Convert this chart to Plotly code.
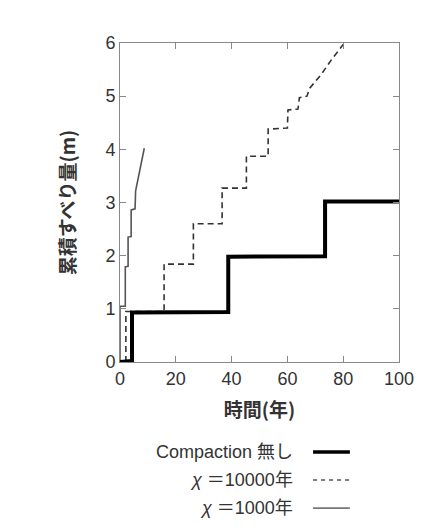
import plotly.graph_objects as go

# Compaction 無し (thick black)
x_none = [0, 4.3, 4.3, 38.8, 38.8, 73.5, 73.5, 100]
y_none = [0, 0.02, 0.93, 0.94, 1.98, 1.99, 3.02, 3.02]

# χ=10000年 (dashed)
x_10000 = [2.1, 2.1, 15.8, 15.8, 26.3, 26.3, 36.6, 36.6, 45.3, 45.3, 53.1, 53.1, 60.0, 60.2, 63.8, 64.3, 67.0, 68.0, 72.0, 76.0, 80.0]
y_10000 = [0.0, 0.95, 0.95, 1.84, 1.84, 2.60, 2.60, 3.27, 3.27, 3.87, 3.87, 4.38, 4.40, 4.74, 4.76, 4.97, 5.00, 5.15, 5.40, 5.70, 5.97]

# χ=1000年 (thin solid)
x_1000 = [0, 0, 1.9, 1.9, 2.9, 2.9, 4.0, 4.0, 5.4, 5.6, 8.7]
y_1000 = [0, 1.05, 1.05, 1.79, 1.80, 2.35, 2.36, 2.86, 2.88, 3.22, 4.02]

x_ticks = [0, 20, 40, 60, 80, 100]
y_ticks = [0, 1, 2, 3, 4, 5, 6]

legend_labels = ["Compaction 無し", "<i>χ</i> ＝10000年", "<i>χ</i> ＝1000年"]

fig = go.Figure()
fig.add_trace(go.Scatter(x=x_1000, y=y_1000, mode="lines",
                         line=dict(color="#555555", width=1.6), showlegend=False))
fig.add_trace(go.Scatter(x=x_10000, y=y_10000, mode="lines",
                         line=dict(color="#333333", width=1.6, dash="6px,4px"), showlegend=False))
fig.add_trace(go.Scatter(x=x_none, y=y_none, mode="lines",
                         line=dict(color="#000000", width=4), showlegend=False))

font_main = "Liberation Sans, Arial, sans-serif"
axis_common = dict(showline=True, linecolor="#888888", linewidth=1, mirror="ticks",
                   ticks="inside", ticklen=6, tickcolor="#888888", showgrid=False,
                   zeroline=False, tickfont=dict(size=18, color="#333333", family=font_main))

title_font = dict(size=19, color="#333333", family="Noto Sans CJK JP, sans-serif")
fig.update_xaxes(range=[0, 100], tickvals=x_ticks, **axis_common,
                 title=dict(text="<b>時間(年)</b>", font=title_font, standoff=16))
fig.update_yaxes(range=[0, 6], tickvals=y_ticks, **axis_common,
                 title=dict(text="<b>累積すべり量(m)</b>", font=title_font, standoff=24))

# legend built below the plot: right-aligned text and line samples to the right
row_y = [-0.282, -0.370, -0.458]
styles = [dict(color="#000000", width=3.5), dict(color="#555555", width=1.6, dash="4px,4px"),
          dict(color="#777777", width=1.6)]
for lbl, yy, st in zip(legend_labels, row_y, styles):
    fig.add_annotation(x=0.627, y=yy, xref="paper", yref="paper", text=lbl, showarrow=False,
                       xanchor="right", yanchor="middle",
                       font=dict(size=18, color="#333333", family="Liberation Sans, Noto Sans CJK JP, sans-serif"))
    fig.add_shape(type="line", xref="paper", yref="paper", x0=0.692, x1=0.824, y0=yy, y1=yy,
                  line=st)

fig.update_layout(width=440, height=520, margin=dict(l=112, r=49, t=35, b=166),
                  paper_bgcolor="#ffffff", plot_bgcolor="#ffffff", showlegend=False)

fig.write_html("out.html")
